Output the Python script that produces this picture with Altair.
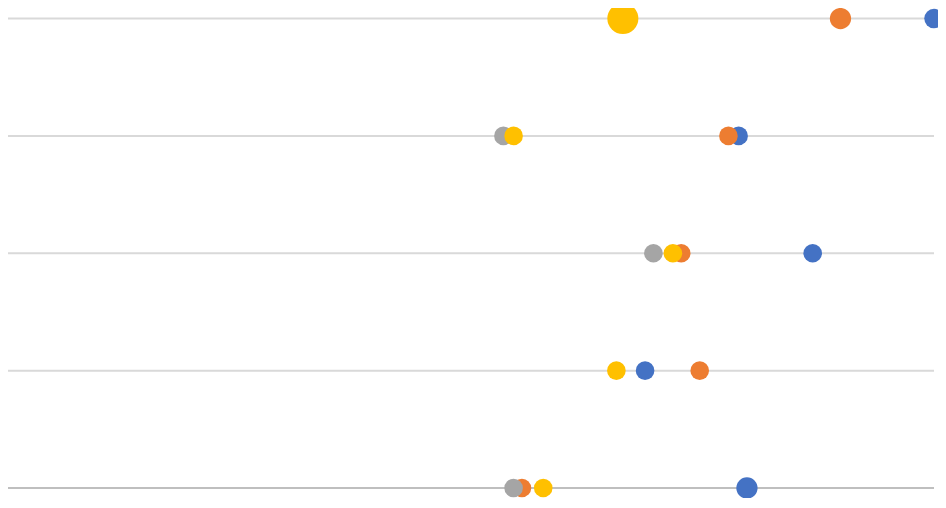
import altair as alt
import pandas as pd

rows = [4, 3, 2, 1, 0]
series = ["Series1", "Series2", "Series3", "Series4"]
colors = ["#4472C4", "#ED7D31", "#A5A5A5", "#FFC000"]

blue_x = [100.0, 78.9, 86.9, 68.8, 79.8]
orange_x = [89.9, 77.8, 72.7, 74.7, 55.5]
gray_x = [None, 53.5, 69.7, None, 54.6]
yellow_x = [66.4, 54.6, 71.8, 65.7, 57.8]

blue_s = [380, 346, 346, 346, 452]
orange_s = [452, 346, 346, 346, 346]
gray_s = [346, 346, 346, 346, 346]
yellow_s = [962, 346, 346, 346, 346]

line_colors = ["#D9D9D9", "#D9D9D9", "#D9D9D9", "#D9D9D9", "#BFBFBF"]

recs = []
for k, (xs, ss) in enumerate([(blue_x, blue_s), (orange_x, orange_s),
                              (gray_x, gray_s), (yellow_x, yellow_s)]):
    for r, x, s in zip(rows, xs, ss):
        if x is not None:
            recs.append({"series": series[k], "row": r, "x": x, "size": s, "ord": k})
pts = pd.DataFrame(recs)

lines = pd.DataFrame({"row": rows, "x0": [0] * 5, "x1": [100] * 5, "col": line_colors})

xs = alt.Scale(domain=[0, 100], nice=False, zero=False)
ys = alt.Scale(domain=[0, 4.09], nice=False, zero=False)

rules = alt.Chart(lines).mark_rule(strokeWidth=2).encode(
    x=alt.X("x0:Q", scale=xs, axis=None),
    x2="x1:Q",
    y=alt.Y("row:Q", scale=ys, axis=None),
    color=alt.Color("col:N", scale=None),
)

dots = alt.Chart(pts).mark_circle(opacity=1).encode(
    x=alt.X("x:Q", scale=xs, axis=None),
    y=alt.Y("row:Q", scale=ys, axis=None),
    size=alt.Size("size:Q", scale=None),
    color=alt.Color("series:N", scale=alt.Scale(domain=series, range=colors), legend=None),
    order=alt.Order("ord:Q"),
)

chart = alt.layer(rules, dots).properties(
    width=926,
    height=480,
    autosize=alt.AutoSizeParams(type="none"),
    padding={"left": 0, "top": 0, "right": 4, "bottom": 10},
).configure_view(stroke=None)

chart.save("out.html", embed_options={"renderer": "svg", "actions": False})
